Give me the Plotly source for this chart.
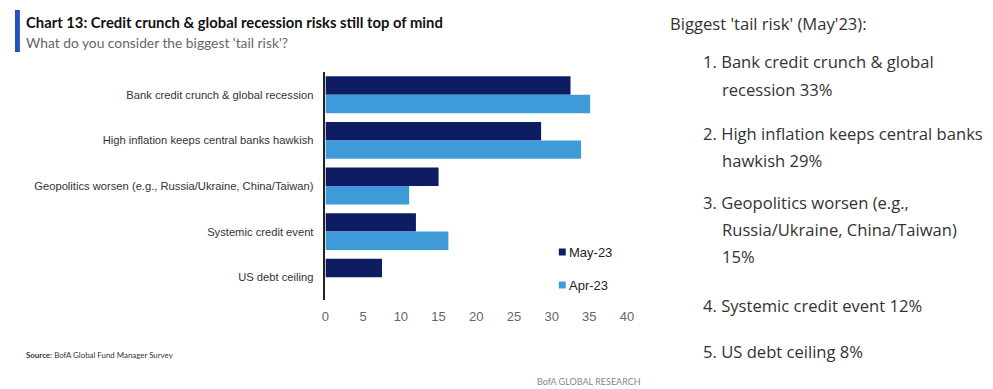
import plotly.graph_objects as go

# page body has an 8px margin; figure drawn inside it
OFF = 8
W, H = 993 - OFF, 389 - OFF

categories = [
    "Bank credit crunch & global recession",
    "High inflation keeps central banks hawkish",
    "Geopolitics worsen (e.g., Russia/Ukraine, China/Taiwan)",
    "Systemic credit event",
    "US debt ceiling",
]
may_23 = [32.5, 28.6, 15.0, 12.0, 7.5]
apr_23 = [35.1, 33.9, 11.1, 16.3, None]
x_ticks = [0, 5, 10, 15, 20, 25, 30, 35, 40]
series_names = ["May-23", "Apr-23"]

side_title = "Biggest 'tail risk' (May'23):"
side_lines = [
    ("1. Bank credit crunch & global", 0),
    ("recession 33%", 1),
    ("2. High inflation keeps central banks", 0),
    ("hawkish 29%", 1),
    ("3. Geopolitics worsen (e.g.,", 0),
    ("Russia/Ukraine, China/Taiwan)", 1),
    ("15%", 1),
    ("4. Systemic credit event 12%", 0),
    ("5. US debt ceiling 8%", 0),
]
side_y = [61, 89, 133, 160, 202, 229, 256, 305, 351]

NAVY = "#0e1d63"
LIGHT = "#3e9ad9"
NARROW = "Liberation Sans Narrow, Liberation Sans, Arial"

def px(x):
    return (x - OFF) / W

def py(y):
    return 1 - (y - OFF) / H

fig = go.Figure()
fig.add_trace(go.Bar(y=categories, x=may_23, orientation="h", name=series_names[0],
                     marker=dict(color=NAVY, line=dict(width=0))))
fig.add_trace(go.Bar(y=categories, x=apr_23, orientation="h", name=series_names[1],
                     marker=dict(color=LIGHT, line=dict(width=0))))

fig.update_layout(
    width=W, height=H,
    margin=dict(l=0, r=0, t=0, b=0),
    paper_bgcolor="white", plot_bgcolor="white",
    barmode="group", bargap=0.19, bargroupgap=0,
    showlegend=False,
    xaxis=dict(domain=[px(325), px(630)], range=[0, 40], tickvals=x_ticks,
               showgrid=False, zeroline=False, showline=False,
               ticks="", tickfont=dict(family=NARROW, size=13, color="#666"),
               ticklabelstandoff=7),
    yaxis=dict(domain=[py(300), py(72)], autorange="reversed",
               showgrid=False, zeroline=False, showline=True,
               linecolor="#222", linewidth=1.5, ticks="",
               tickfont=dict(family=NARROW, size=11.2, color="#333"),
               ticklabelstandoff=8),
)

shapes = [dict(type="rect", xref="paper", yref="paper",
               x0=px(11), x1=px(16), y0=py(52), y1=py(10),
               fillcolor="#2055c0", line=dict(width=0))]
legend_y = [252, 285]
for col, yy in zip([NAVY, LIGHT], legend_y):
    shapes.append(dict(type="rect", xref="paper", yref="paper",
                       x0=px(561), x1=px(568), y0=py(yy + 3.5), y1=py(yy - 3.5),
                       fillcolor=col, line=dict(width=0)))
fig.update_layout(shapes=shapes)

def note(text, x, y, size, color, family, anchor="left"):
    return dict(text=text, x=px(x), y=py(y), xref="paper", yref="paper",
                xanchor=anchor, yanchor="middle", showarrow=False,
                font=dict(family=family, size=size, color=color))

ann = []
ann.append(note("<b>Chart 13: Credit crunch & global recession risks still top of mind</b>",
                20, 22, 14.8, "#111", "Lato"))
ann.append(note("What do you consider the biggest 'tail risk'?", 20, 43, 13.8, "#666", "Lato"))
ann.append(note("<b>Source:</b> BofA Global Fund Manager Survey", 20, 355, 7.9, "#333", "Lato"))
ann.append(note("BofA GLOBAL RESEARCH", 646, 381, 9, "#888", "Lato", anchor="right"))

# legend labels
for name, yy in zip(series_names, legend_y):
    ann.append(note(name, 569, yy, 13, "#222", NARROW))

ann.append(note(side_title, 671, 23, 16.6, "#333", "Open Sans"))
for (t, indent), yy in zip(side_lines, side_y):
    ann.append(note(t, 705 if indent == 0 else 724, yy, 16.6, "#333", "Open Sans"))
fig.update_layout(annotations=ann)

fig.write_html("out.html")
